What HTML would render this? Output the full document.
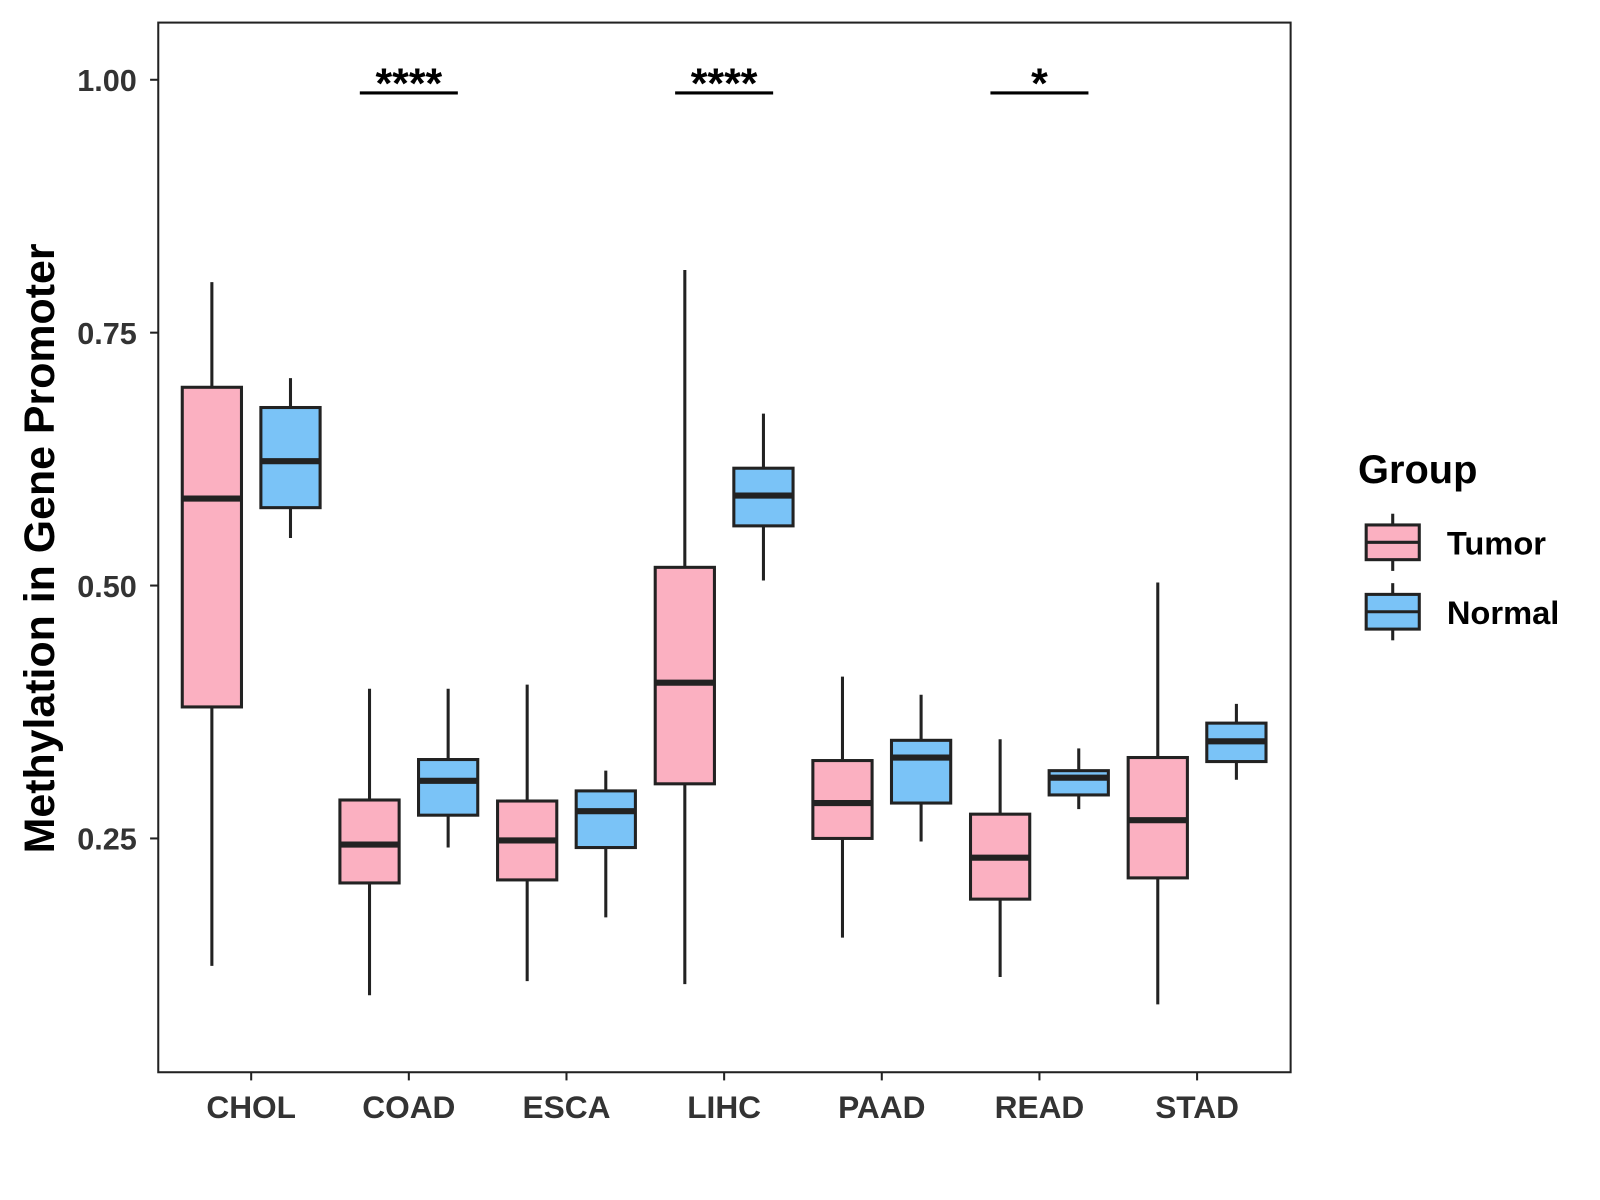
<!DOCTYPE html>
<html><head><meta charset="utf-8"><style>
body{margin:0;background:#fff;}
svg{display:block;font-family:"Liberation Sans",Arial,sans-serif;}
</style></head><body>
<svg id="chart" width="1600" height="1200" viewBox="0 0 1567 1175">
<rect x="155" y="22" width="1109" height="1028" fill="#fff" stroke="#222" stroke-width="2"/>
<g id="marks"></g>
<text transform="translate(53,537) rotate(-90)" text-anchor="middle" font-size="42" font-weight="bold" fill="#000">Methylation in Gene Promoter</text>
<g>
<text x="1330" y="473" font-size="39" font-weight="bold">Group</text>
<g>
<line x1="1364" y1="503" x2="1364" y2="559" stroke="#222" stroke-width="3"/>
<rect x="1338" y="514" width="52" height="34" fill="#FBB0C1" stroke="#222" stroke-width="3"/>
<line x1="1338" y1="531" x2="1390" y2="531" stroke="#222" stroke-width="3"/>
<text x="1417" y="543" font-size="32" font-weight="bold">Tumor</text></g>
<g>
<line x1="1364" y1="571" x2="1364" y2="627" stroke="#222" stroke-width="3"/>
<rect x="1338" y="582" width="52" height="34" fill="#7AC3F7" stroke="#222" stroke-width="3"/>
<line x1="1338" y1="599" x2="1390" y2="599" stroke="#222" stroke-width="3"/>
<text x="1417" y="611" font-size="32" font-weight="bold">Normal</text></g>
</g>
</svg>
<script>
const categories=["CHOL","COAD","ESCA","LIHC","PAAD","READ","STAD"];
// [low, q1, median, q3, high]
const tumorStats=[[0.124,0.380,0.586,0.696,0.800],[0.095,0.206,0.244,0.288,0.398],[0.109,0.209,0.248,0.287,0.402],[0.106,0.304,0.404,0.518,0.812],[0.152,0.250,0.285,0.327,0.410],[0.113,0.190,0.231,0.274,0.348],[0.086,0.211,0.268,0.330,0.503]];
const normalStats=[[0.547,0.577,0.623,0.676,0.705],[0.241,0.273,0.307,0.328,0.398],[0.172,0.241,0.277,0.297,0.317],[0.505,0.559,0.589,0.616,0.670],[0.247,0.285,0.330,0.347,0.392],[0.279,0.293,0.310,0.317,0.339],[0.308,0.326,0.346,0.364,0.383]];
const yTicks=[0.25,0.50,0.75,1.00];
const yTickLabels=["0.25","0.50","0.75","1.00"];
const sigCategories=["COAD","LIHC","READ"];
const sigLabels=["****","****","*"];
const sigLevel=0.987;
const ns="http://www.w3.org/2000/svg";
const g=document.getElementById('marks');
function y(v){return 78+(1-v)*990.7;}
function x(i){return 246+i*154.4;}
function mk(t,a,p){const e=document.createElementNS(ns,t);for(const k in a)e.setAttribute(k,a[k]);(p||g).appendChild(e);return e;}
yTicks.forEach((t,i)=>{
  const tk=mk('line',{x1:147,x2:155,y1:y(t),y2:y(t),stroke:'#222','stroke-width':2});
  
  
  const tx=mk('text',{x:134,y:y(t)+11,'text-anchor':'end','font-size':30,'font-weight':'bold',fill:'#333'});
  tx.textContent=yTickLabels[i];
  
  
});
categories.forEach((c,i)=>{
  const tk=mk('line',{x1:x(i),x2:x(i),y1:1050,y2:1058,stroke:'#222','stroke-width':2});
  
  
  const tx=mk('text',{x:x(i),y:1095,'text-anchor':'middle','font-size':31,'font-weight':'bold',fill:'#333'});
  tx.textContent=c;
  
  
});
function box(s,cx,fill,name){
  const bg=mk('g',{});
  
  
  mk('line',{x1:cx,x2:cx,y1:y(s[4]),y2:y(s[0]),stroke:'#222','stroke-width':3},bg);
  mk('rect',{x:cx-29,y:y(s[3]),width:58,height:y(s[1])-y(s[3]),fill:fill,stroke:'#222','stroke-width':3},bg);
  mk('line',{x1:cx-29,x2:cx+29,y1:y(s[2]),y2:y(s[2]),stroke:'#222','stroke-width':6},bg);
}
categories.forEach((c,i)=>{
  box(tumorStats[i],x(i)-38.5,'#FBB0C1','box-tumor-'+c.toLowerCase());
  box(normalStats[i],x(i)+38.5,'#7AC3F7','box-normal-'+c.toLowerCase());
});
sigCategories.forEach((c,j)=>{
  const i=categories.indexOf(c);
  const l=mk('line',{x1:x(i)-48,x2:x(i)+48,y1:y(sigLevel),y2:y(sigLevel),stroke:'#000','stroke-width':3});
  
  
  const t=mk('text',{x:x(i),y:y(sigLevel)+5,'text-anchor':'middle','font-size':42,'font-weight':'bold'});
  t.textContent=sigLabels[j];
  
  
});
</script>
</body></html>
